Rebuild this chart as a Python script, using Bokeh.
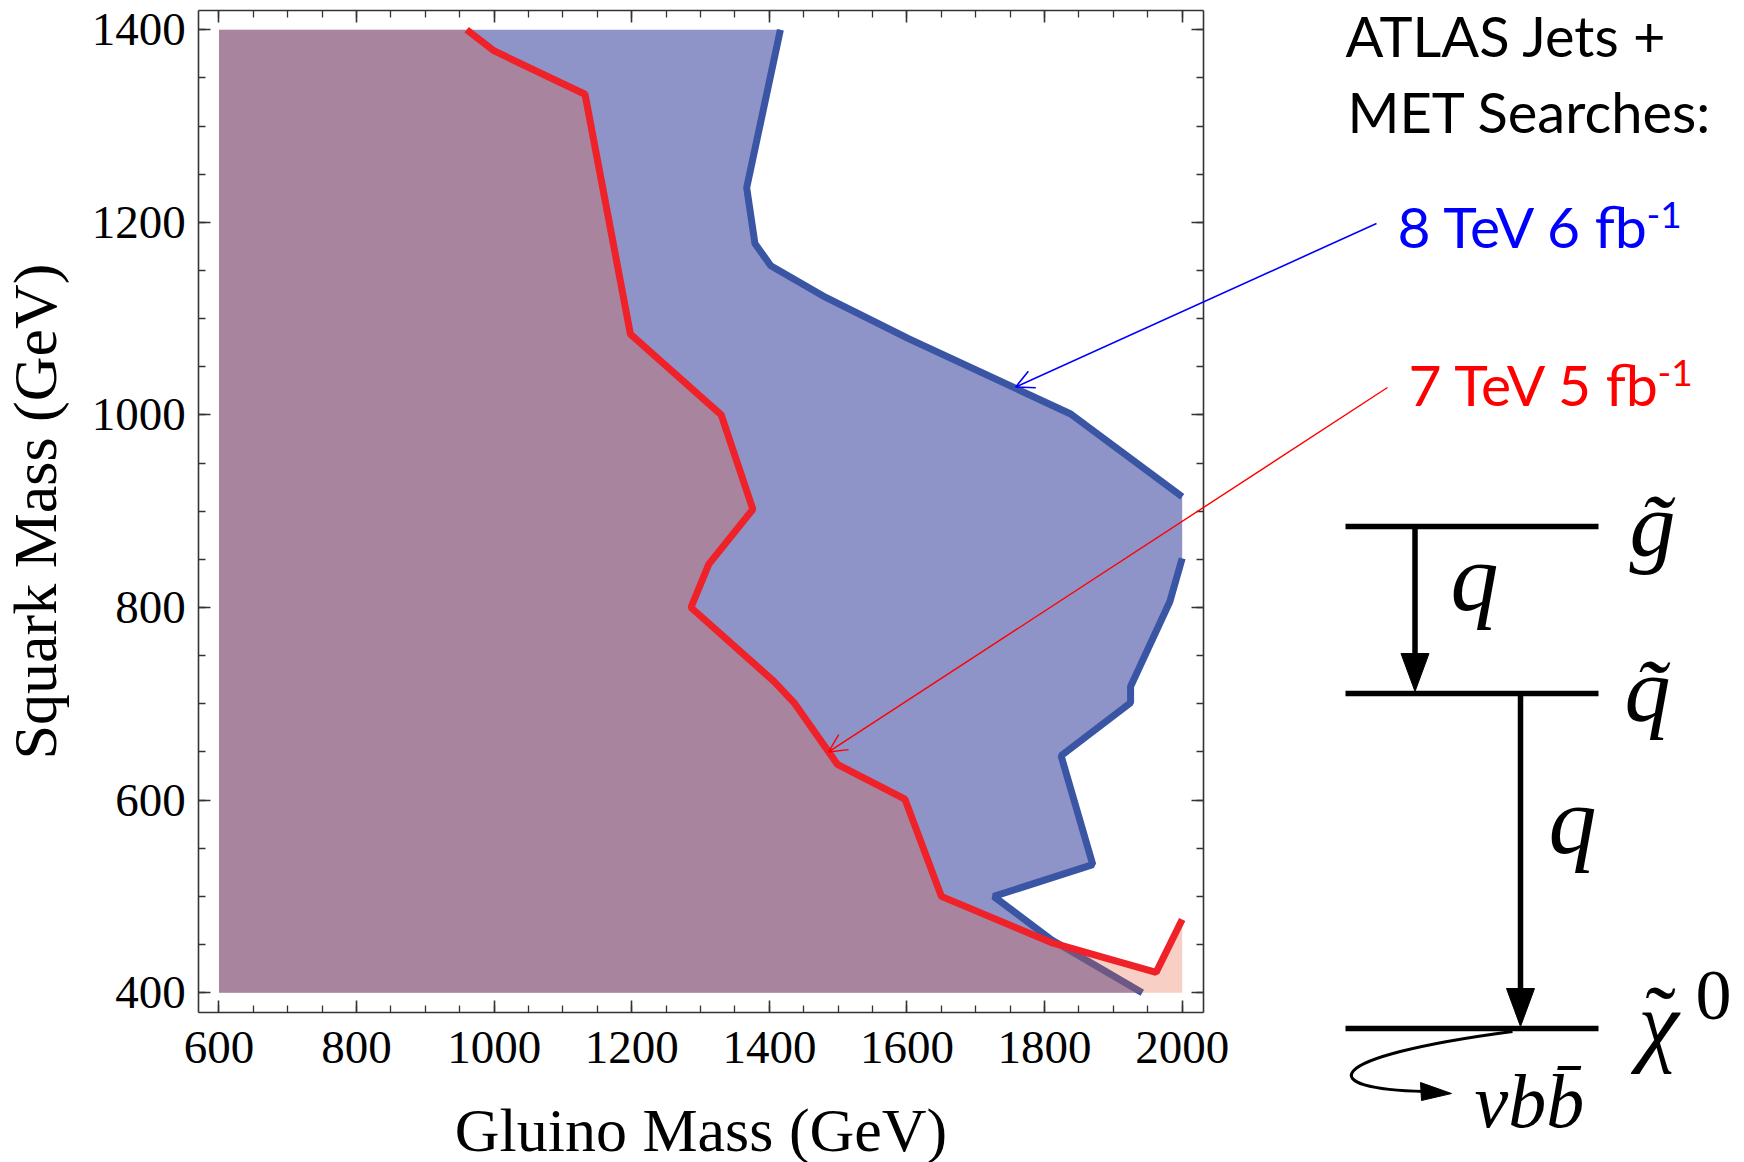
import math
from bokeh.plotting import figure
from bokeh.models import (Range1d, LinearAxis, FixedTicker, CustomJSTickFormatter,
                          Arrow, OpenHead)
from bokeh.core.properties import value
from bokeh.embed import file_html
from bokeh.resources import INLINE

# ---------------- data ----------------
gluino_ticks = [600, 800, 1000, 1200, 1400, 1600, 1800, 2000]
squark_ticks = [400, 600, 800, 1000, 1200, 1400]
gluino_minor = list(range(600, 2001, 50))
squark_minor = list(range(400, 1401, 50))

# 7 TeV 5 fb^-1 exclusion contour (red)
tev7_gluino = [960, 1000, 1132, 1198, 1330, 1376, 1312, 1286, 1407, 1436, 1499, 1597, 1650, 1810, 1962, 2000]
tev7_squark = [1400, 1378, 1333, 1084, 1000, 902, 845, 800, 723, 701, 637, 601, 500, 452, 421, 476]

# 8 TeV 6 fb^-1 exclusion contour (blue)
tev8_gluino = [1416, 1367, 1379, 1402, 1482, 1603, 1838, 2000, 2000, 1982, 1925, 1925, 1824, 1870, 1726, 1810, 1942]
tev8_squark = [1400, 1236, 1178, 1155, 1122, 1079, 1001, 915, 851, 806, 718, 701, 646, 533, 500, 455, 400]
tev8_gap = 7   # the contour is not drawn along the x=2000 edge between these points

gluino_min, gluino_max = 600, 2000
squark_min, squark_max = 400, 1400

# ---------------- layout ----------------
W, H = 1744, 1162
FL, FR, FT, FB = 198.2, 1202.6, 10.0, 1012.0          # chart box in page pixels
XMIN, XMAX = 570.5, 2030.4                              # chart box in data units
YMIN, YMAX = 379.4, 1420.0
sx = (XMAX - XMIN) / (FR - FL)
sy = (YMAX - YMIN) / (FB - FT)
x_lo, x_hi = XMIN - FL * sx, XMIN + (W - FL) * sx
y_hi, y_lo = YMAX + FT * sy, YMAX - (H - FT) * sy


def px2x(px):
    return XMIN + (px - FL) * sx


def py2y(py):
    return YMAX - (py - FT) * sy


p = figure(width=W, height=H, x_range=Range1d(x_lo, x_hi), y_range=Range1d(y_lo, y_hi),
           output_backend="svg", toolbar_location=None, x_axis_type=None, y_axis_type=None,
           min_border=0, outline_line_color=None)
p.background_fill_color = "white"
p.border_fill_color = "white"
p.extra_x_ranges = {"px": Range1d(0, W)}
p.extra_y_ranges = {"px": Range1d(H, 0)}

AX_COL = "#333333"
SERIF = "Liberation Serif"
SANS = "Lato"
K_SERIF = 0.31   # baseline correction (fraction of font size) for the text glyph
K_SANS = 0.40


def add_axis(side, loc, bounds, ticks, minor, labels, title=None):
    ax = LinearAxis(fixed_location=loc, bounds=bounds,
                    ticker=FixedTicker(ticks=ticks, minor_ticks=minor))
    ax.major_tick_in = 12
    ax.major_tick_out = 0
    ax.minor_tick_in = 7
    ax.minor_tick_out = 0
    ax.axis_line_color = AX_COL
    ax.axis_line_width = 1.6
    ax.major_tick_line_color = AX_COL
    ax.major_tick_line_width = 1.6
    ax.minor_tick_line_color = AX_COL
    ax.minor_tick_line_width = 1.3
    if labels:
        ax.major_label_text_font = SERIF
        ax.major_label_text_font_size = "47px"
        ax.major_label_text_color = "black"
        ax.major_label_standoff = 13 if side == "left" else 19
    else:
        ax.formatter = CustomJSTickFormatter(code="return ''")
    if title:
        ax.axis_label = title
        ax.axis_label_text_font = SERIF
        ax.axis_label_text_font_size = "62px"
        ax.axis_label_text_font_style = "normal"
        ax.axis_label_text_color = "black"
        ax.axis_label_standoff = 20 if side == "left" else 30
    p.add_layout(ax, side)
    return ax


def txt(x, y, text, font, size, color="black", align="left", style="normal"):
    k = K_SERIF if font == SERIF else K_SANS
    p.text(x=x, y=[v - k * size for v in y], text=text, text_font=value(font),
           text_font_style=style, text_font_size=f"{size}px", text_color=color,
           text_align=align, text_baseline="alphabetic",
           x_range_name="px", y_range_name="px")


# ---------------- fills and contours ----------------
blue_poly_x = tev8_gluino + [gluino_min, gluino_min]
blue_poly_y = tev8_squark + [squark_min, squark_max]
red_poly_x = tev7_gluino + [gluino_max, gluino_min, gluino_min]
red_poly_y = tev7_squark + [squark_min, squark_min, squark_max]

p.patch(blue_poly_x, blue_poly_y, fill_color=(142, 148, 200), line_color=None)
p.line(tev8_gluino[:tev8_gap + 1], tev8_squark[:tev8_gap + 1], line_color="#3A55A4", line_width=7)
p.line(tev8_gluino[tev8_gap + 1:], tev8_squark[tev8_gap + 1:], line_color="#3A55A4", line_width=7)
p.patch(red_poly_x, red_poly_y, fill_color=(229, 95, 63), fill_alpha=0.3, line_color=None)
p.line(tev7_gluino, tev7_squark, line_color="#EE2228", line_width=7)

# ---------------- axes (frame on all four sides) ----------------
add_axis("below", YMIN, (XMIN, XMAX), gluino_ticks, gluino_minor, True, "Gluino Mass (GeV)")
add_axis("left", XMIN, (YMIN, YMAX), squark_ticks, squark_minor, True, "Squark Mass (GeV)")
add_axis("above", YMAX, (XMIN, XMAX), gluino_ticks, gluino_minor, False)
add_axis("right", XMAX, (YMIN, YMAX), squark_ticks, squark_minor, False)

# ---------------- annotations on the right ----------------
txt([1345, 1347], [57, 133], ["ATLAS Jets +", "MET Searches:"], SANS, 56)

txt([1650], [248], ["8 TeV 6 fb"], SANS, 57, "#0000FF", "right")
txt([1646], [229], ["-1"], SANS, 37, "#0000FF")
txt([1661], [406], ["7 TeV 5 fb"], SANS, 57, "#FF0000", "right")
txt([1657], [387], ["-1"], SANS, 37, "#FF0000")

p.add_layout(Arrow(end=OpenHead(size=18, line_color="#0000FF", line_width=1.6),
                   x_start=px2x(1376), y_start=py2y(223), x_end=1758, y_end=1029,
                   line_color="#0000FF", line_width=1.6))
p.add_layout(Arrow(end=OpenHead(size=18, line_color="#FF0000", line_width=1.4),
                   x_start=px2x(1387), y_start=py2y(387), x_end=1486, y_end=650,
                   line_color="#FF0000", line_width=1.4))

# ---------------- decay-chain level diagram ----------------
lvl_x0, lvl_x1 = 1345, 1598
lvl_y = [526, 693, 1028]
p.segment(x0=[lvl_x0] * 3, y0=lvl_y, x1=[lvl_x1] * 3, y1=lvl_y, line_color="black",
          line_width=5.5, x_range_name="px", y_range_name="px")
p.segment(x0=[1414.5, 1520], y0=[526, 693], x1=[1414.5, 1520], y1=[660, 995],
          line_color="black", line_width=5.5, x_range_name="px", y_range_name="px")
p.patches(xs=[[1400.5, 1428.5, 1414.5], [1506, 1534, 1520]],
          ys=[[653, 653, 691], [988, 988, 1026]],
          fill_color="black", line_color="black", line_width=1,
          x_range_name="px", y_range_name="px")
p.bezier(x0=[1512], y0=[1031], x1=[1424], y1=[1091], cx0=[1315], cy0=[1057],
         cx1=[1315], cy1=[1089], line_color="black", line_width=3,
         x_range_name="px", y_range_name="px")
p.patch([1451, 1420, 1421], [1093, 1082, 1100], fill_color="black", line_color="black",
        line_width=1, x_range_name="px", y_range_name="px")

txt([1474, 1572], [607, 850], ["q", "q"], SERIF, 96, align="center", style="italic")
txt([1652, 1647], [553, 718], ["g\u0303", "q\u0303"], SERIF, 92, align="center", style="italic")
txt([1658], [1052], ["\u03c7"], SERIF, 92, align="center", style="italic")
txt([1660], [1046], ["\u02dc"], SERIF, 92, align="center")
txt([1695], [1017], ["0"], SERIF, 72)
txt([1474], [1124], ["\u03bdbb\u0304"], SERIF, 76, style="italic")

open("out.html", "w").write(file_html(p, INLINE))
